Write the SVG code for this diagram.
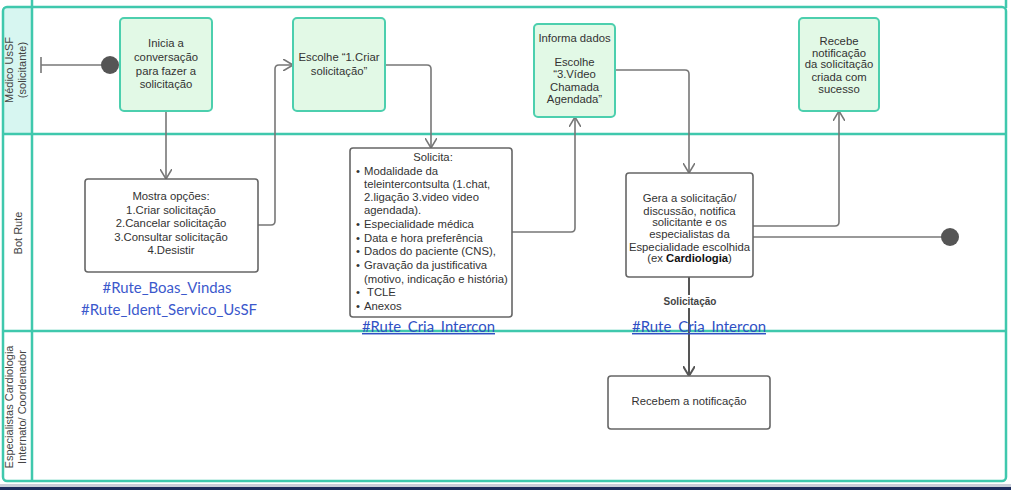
<svg xmlns="http://www.w3.org/2000/svg" width="1011" height="490" viewBox="0 0 1011 490">
<style>
.lane{fill:none;stroke:#3fc8ad;stroke-width:2.5}
.ln{stroke:#3fc8ad;stroke-width:2.5}
.gnode{fill:#e2f9e6;stroke:#4ccfae;stroke-width:2}
.bnode{fill:#fff;stroke:#666;stroke-width:1.6}
.t{font-family:"Liberation Sans",Arial,sans-serif;font-size:11.3px;fill:#333;text-anchor:middle}
.tl{font-family:"Liberation Sans",Arial,sans-serif;font-size:11.3px;fill:#333}
.hd{font-family:"Liberation Sans",Arial,sans-serif;font-size:11px;fill:#444;text-anchor:middle}
.tag{font-family:Lato,"Open Sans",sans-serif;font-size:14.5px;fill:#3b58cc;text-anchor:middle}
.lnk{font-family:Lato,"Open Sans",sans-serif;font-size:14.5px;fill:#2f4fc4;text-decoration:underline}
.c{fill:none;stroke:#777;stroke-width:1.6}
</style>
<defs>
<marker id="arr" viewBox="0 0 10 12" refX="10" refY="6" markerWidth="10" markerHeight="12" markerUnits="userSpaceOnUse" orient="auto">
<path d="M0,0 L10,6 L0,12" fill="none" stroke="#777" stroke-width="1.6"/>
</marker>
<marker id="arr2" viewBox="0 0 10 12" refX="10" refY="6" markerWidth="10" markerHeight="12" markerUnits="userSpaceOnUse" orient="auto">
<path d="M0,0 L10,6 L0,12" fill="none" stroke="#555" stroke-width="2"/>
</marker>
</defs>
<rect x="0" y="0" width="1011" height="490" fill="#fff"/>
<g id="pool">
<rect x="3" y="7" width="29" height="127" fill="#d7f6f1"/>
<line class="ln" x1="32" y1="0" x2="32" y2="481"/>
<line class="ln" x1="1006" y1="0" x2="1006" y2="8"/>
<rect class="lane" x="3" y="7" width="1003" height="474" rx="4"/>
<line class="ln" x1="3" y1="134" x2="1006" y2="134"/>
<line class="ln" x1="3" y1="331" x2="1006" y2="331"/>
<text class="hd" transform="translate(16,70) rotate(-90)"><tspan x="0" y="-3">Médico UsSF</tspan><tspan x="0" y="10">(solicitante)</tspan></text>
<text class="hd" transform="translate(18,233) rotate(-90)" y="4">Bot Rute</text>
<text class="hd" transform="translate(16,407) rotate(-90)"><tspan x="0" y="-3">Especialistas Cardiologia</tspan><tspan x="0" y="10">Internato/ Coordenador</tspan></text>
<rect x="0" y="484" width="1011" height="3" fill="#c9ced8"/>
<rect x="0" y="487" width="1011" height="3" fill="#1c2b5c"/>
</g>
<g id="connectors">
<line x1="41" y1="57" x2="41" y2="73" stroke="#777" stroke-width="1.6"/>
<line class="c" x1="41" y1="65" x2="102" y2="65"/>
<path class="c" d="M166,111 V179" marker-end="url(#arr)"/>
<path class="c" d="M258,225 H271 Q275,225 275,221 V69 Q275,65 279,65 H293" marker-end="url(#arr)"/>
<path class="c" d="M385,65 H427 Q431,65 431,69 V148" marker-end="url(#arr)"/>
<path class="c" d="M512,232 H571 Q575,232 575,228 V117" marker-end="url(#arr)"/>
<path class="c" d="M615,70 H685 Q689,70 689,74 V173" marker-end="url(#arr)"/>
<path class="c" d="M753,226 H835 Q839,226 839,222 V111" marker-end="url(#arr)"/>
<line class="c" x1="753" y1="237" x2="942" y2="237"/>
<path d="M689,277 V376" fill="none" stroke="#555" stroke-width="2" marker-end="url(#arr2)"/>
<rect x="660" y="295" width="60" height="13" fill="#fff"/>
<text x="690" y="305" font-family="'Liberation Sans',Arial,sans-serif" font-size="10px" font-weight="bold" fill="#444" text-anchor="middle">Solicitação</text>
</g>
<g id="start"><circle cx="110" cy="65" r="9" fill="#555"/></g>
<g id="end"><circle cx="950" cy="237" r="9" fill="#555"/></g>
<g id="n1">
<rect class="gnode" x="120" y="18" width="92" height="93" rx="4"/>
<text class="t"><tspan x="166" y="47">Inicia a</tspan><tspan x="166" y="61">conversação</tspan><tspan x="166" y="75">para fazer a</tspan><tspan x="166" y="88">solicitação</tspan></text>
</g>
<g id="n2">
<rect class="gnode" x="293" y="18" width="92" height="93" rx="4"/>
<text class="t"><tspan x="339" y="61">Escolhe “1.Criar</tspan><tspan x="339" y="75">solicitação”</tspan></text>
</g>
<g id="n3">
<rect class="gnode" x="534" y="24" width="81" height="93" rx="4"/>
<text class="t"><tspan x="574.5" y="42">Informa dados</tspan><tspan x="574.5" y="66">Escolhe</tspan><tspan x="574.5" y="78">“3.Vídeo</tspan><tspan x="574.5" y="91">Chamada</tspan><tspan x="574.5" y="103">Agendada”</tspan></text>
</g>
<g id="n4">
<rect class="gnode" x="799" y="18" width="80" height="93" rx="4"/>
<text class="t"><tspan x="839" y="45">Recebe</tspan><tspan x="839" y="57">notificação</tspan><tspan x="839" y="68">da solicitação</tspan><tspan x="839" y="81">criada com</tspan><tspan x="839" y="93">sucesso</tspan></text>
</g>
<g id="n5">
<rect class="bnode" x="85" y="179" width="173" height="93" rx="3"/>
<text class="t"><tspan x="171" y="200">Mostra opções:</tspan><tspan x="171" y="214">1.Criar solicitação</tspan><tspan x="171" y="227">2.Cancelar solicitação</tspan><tspan x="171" y="241">3.Consultar solicitação</tspan><tspan x="171" y="254">4.Desistir</tspan></text>
<text class="tag" x="167" y="293" textLength="129" lengthAdjust="spacingAndGlyphs">#Rute_Boas_Vindas</text>
<text class="tag" x="169" y="315" textLength="176" lengthAdjust="spacingAndGlyphs">#Rute_Ident_Servico_UsSF</text>
</g>
<g id="n6">
<rect class="bnode" x="350" y="148" width="162" height="169" rx="3"/>
<text class="t" x="433" y="161">Solicita:</text>
<text class="tl">
<tspan x="356" y="175">•</tspan><tspan x="364" y="175">Modalidade da</tspan>
<tspan x="364" y="188">teleintercontsulta (1.chat,</tspan>
<tspan x="364" y="201">2.ligação 3.video video</tspan>
<tspan x="364" y="214">agendada).</tspan>
<tspan x="356" y="228">•</tspan><tspan x="364" y="228">Especialidade médica</tspan>
<tspan x="356" y="242">•</tspan><tspan x="364" y="242">Data e hora preferência</tspan>
<tspan x="356" y="255">•</tspan><tspan x="364" y="255">Dados do paciente (CNS),</tspan>
<tspan x="356" y="269">•</tspan><tspan x="364" y="269">Gravação da justificativa</tspan>
<tspan x="364" y="283">(motivo, indicação e história)</tspan>
<tspan x="356" y="296">•</tspan><tspan x="367" y="296">TCLE</tspan>
<tspan x="356" y="310">•</tspan><tspan x="364" y="310">Anexos</tspan>
</text>
<text class="lnk" x="362" y="332" textLength="133" lengthAdjust="spacingAndGlyphs">#Rute_Cria_Intercon</text>
</g>
<g id="n7">
<rect class="bnode" x="626" y="173" width="127" height="104" rx="3"/>
<text class="t"><tspan x="689.5" y="202">Gera a solicitação/</tspan><tspan x="689.5" y="215">discussão, notifica</tspan><tspan x="689.5" y="226">solicitante e os</tspan><tspan x="689.5" y="238">especialistas da</tspan><tspan x="689.5" y="251">Especialidade escolhida</tspan><tspan x="689.5" y="262">(ex <tspan font-weight="bold" fill="#111">Cardiologia</tspan>)</tspan></text>
<text class="lnk" x="632" y="332" textLength="134" lengthAdjust="spacingAndGlyphs">#Rute_Cria_Intercon</text>
</g>
<g id="n8">
<rect class="bnode" x="608" y="376" width="162" height="53" rx="3"/>
<text class="t" x="689" y="405">Recebem a notificação</text>
</g>
</svg>
